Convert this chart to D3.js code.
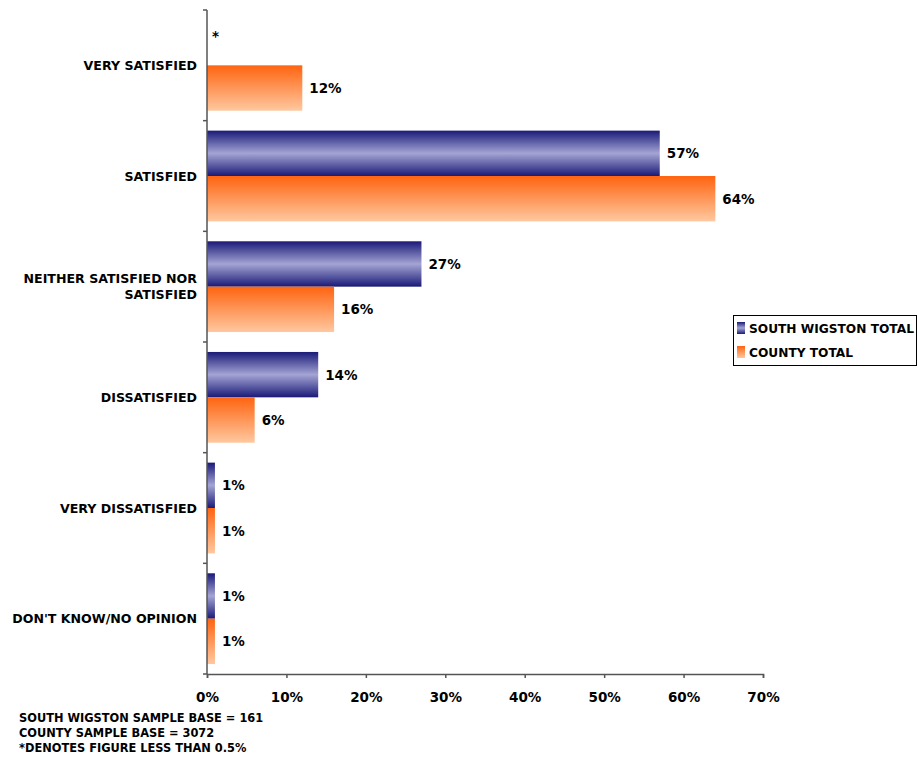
<!DOCTYPE html>
<html><head><meta charset="utf-8">
<script src="https://cdn.jsdelivr.net/npm/d3@7"></script>
<style>body{margin:0;background:#fff;} text{font-family:"DejaVu Sans",Verdana,sans-serif;font-weight:bold;fill:#000;}</style>
</head><body>
<svg id="c" width="918" height="763"></svg>
<script>
const categories = ["VERY SATISFIED","SATISFIED","NEITHER SATISFIED NOR SATISFIED","DISSATISFIED","VERY DISSATISFIED","DON'T KNOW/NO OPINION"];
const categoryLines = [["VERY SATISFIED"],["SATISFIED"],["NEITHER SATISFIED NOR","SATISFIED"],["DISSATISFIED"],["VERY DISSATISFIED"],["DON'T KNOW/NO OPINION"]];
const seriesNames = ["SOUTH WIGSTON TOTAL","COUNTY TOTAL"];
const southWigston = [0, 57, 27, 14, 1, 1];
const southWigstonLabels = ["*","57%","27%","14%","1%","1%"];
const county = [12, 64, 16, 6, 1, 1];
const countyLabels = ["12%","64%","16%","6%","1%","1%"];
const xTicks = [0,10,20,30,40,50,60,70];
const notes = ["SOUTH WIGSTON SAMPLE BASE = 161","COUNTY SAMPLE BASE = 3072","*DENOTES FIGURE LESS THAN 0.5%"];

const svg = d3.select("#c");
const defs = svg.append("defs");
const gb = defs.append("linearGradient").attr("id","gBlue").attr("x1",0).attr("y1",0).attr("x2",0).attr("y2",1);
gb.append("stop").attr("offset","0%").attr("stop-color","#1a1a78");
gb.append("stop").attr("offset","50%").attr("stop-color","#a4a4d4");
gb.append("stop").attr("offset","100%").attr("stop-color","#1a1a78");
const go = defs.append("linearGradient").attr("id","gOrange").attr("x1",0).attr("y1",0).attr("x2",0).attr("y2",1);
go.append("stop").attr("offset","0%").attr("stop-color","#ff6410");
go.append("stop").attr("offset","100%").attr("stop-color","#ffc8a0");

const x0 = 207, x1 = 763, yTop = 10, yBot = 674;
const x = d3.scaleLinear().domain([0,70]).range([x0,x1]);
const y = d3.scaleBand().domain(categories).range([yTop,yBot]).paddingInner(0.18).paddingOuter(0.09);
const inner = d3.scaleBand().domain([0,1]).range([0,y.bandwidth()]);

const series = [
  {vals:southWigston, labels:southWigstonLabels, fill:"url(#gBlue)"},
  {vals:county, labels:countyLabels, fill:"url(#gOrange)"}
];
series.forEach((s,si)=>{
  const g = svg.append("g");
  categories.forEach((c,i)=>{
    const yy = y(c)+inner(si);
    if (s.vals[i] > 0) {
      g.append("rect").attr("x",x(0)).attr("y",yy).attr("width",x(s.vals[i])-x(0)).attr("height",inner.bandwidth()).attr("fill",s.fill);
    }
    g.append("text").attr("x",x(s.vals[i])+ (s.vals[i]>0?7:5)).attr("y",yy+inner.bandwidth()/2+ (s.vals[i]>0?5:-2))
      .attr("font-size",13.5).text(s.labels[i]);
  });
});

// Y axis
const axisColor = "#555";
svg.append("line").attr("x1",x0).attr("x2",x0).attr("y1",yTop).attr("y2",yBot).attr("stroke",axisColor).attr("stroke-width",1.5);
const bandStep = (yBot-yTop)/categories.length;
d3.range(categories.length+1).forEach(i=>{
  const yy = yTop + i*bandStep;
  svg.append("line").attr("x1",x0-4).attr("x2",x0).attr("y1",yy).attr("y2",yy).attr("stroke",axisColor).attr("stroke-width",1.5);
});
categories.forEach((c,i)=>{
  const lines = categoryLines[i];
  const cy = yTop + (i+0.5)*bandStep;
  lines.forEach((l,j)=>{
    svg.append("text").attr("x",197).attr("y",cy + 4.5 + (j-(lines.length-1)/2)*16).attr("text-anchor","end").attr("font-size",12.6).text(l);
  });
});

// X axis
const xAxis = d3.axisBottom(x).tickValues(xTicks).tickFormat(d=>d+"%").tickSize(4).tickPadding(14);
const xg = svg.append("g").attr("transform",`translate(0,${yBot})`).call(xAxis);
xg.select(".domain").attr("stroke",axisColor).attr("stroke-width",1.5);
xg.selectAll(".tick line").attr("stroke",axisColor).attr("stroke-width",1.5);
xg.selectAll(".tick text").attr("font-size",13.5).attr("font-family","DejaVu Sans").attr("font-weight","bold").attr("fill","#000");

// Legend
const lg = svg.append("g");
lg.append("rect").attr("x",733.5).attr("y",315.5).attr("width",183).attr("height",50).attr("fill","#fff").attr("stroke","#000").attr("stroke-width",1);
[ "url(#gBlue)","url(#gOrange)"].forEach((f,i)=>{
  const yy = 322 + i*24;
  lg.append("rect").attr("x",737).attr("y",yy).attr("width",8).attr("height",12).attr("fill",f);
  lg.append("text").attr("x",749).attr("y",yy+11).attr("font-size",12.2).text(seriesNames[i]);
});

// Notes
notes.forEach((n,i)=>{
  svg.append("text").attr("x",19).attr("y",722+i*15).attr("font-size",11.4).text(n);
});
</script>
</body></html>
